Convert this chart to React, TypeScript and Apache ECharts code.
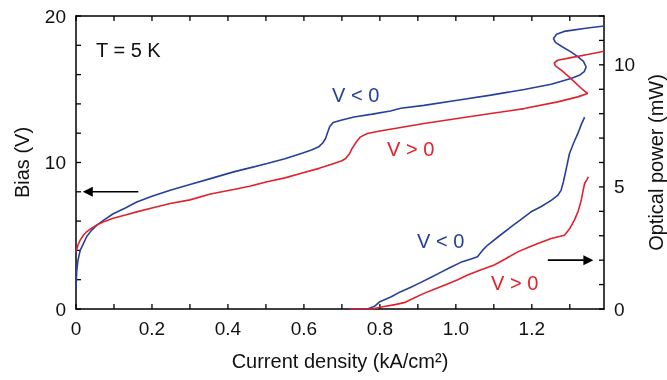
import React, { useEffect, useRef } from "react";
import * as echarts from "echarts";

// Bias (V) vs current density (kA/cm²)
const biasNeg: [number, number][] = [
  [0, 1.5], [0.002, 2.6], [0.005, 3.3], [0.011, 4.0], [0.02, 4.5], [0.028, 4.93], [0.04, 5.35],
  [0.055, 5.73], [0.075, 6.1], [0.098, 6.5], [0.13, 6.9], [0.16, 7.3], [0.2, 7.7], [0.248, 8.1],
  [0.3, 8.5], [0.354, 8.9], [0.415, 9.36], [0.46, 9.65], [0.503, 9.93], [0.55, 10.25], [0.591, 10.6],
  [0.62, 10.85], [0.639, 11.07], [0.65, 11.35], [0.657, 11.64], [0.663, 12.1], [0.668, 12.45],
  [0.677, 12.73], [0.7, 12.9], [0.732, 13.1], [0.78, 13.3], [0.828, 13.52], [0.855, 13.7],
  [0.916, 13.9], [1.004, 14.25], [1.092, 14.6], [1.18, 14.98], [1.251, 15.34], [1.303, 15.73],
  [1.325, 15.95], [1.338, 16.2], [1.343, 16.52], [1.336, 16.9], [1.32, 17.25], [1.303, 17.55],
  [1.28, 17.9], [1.262, 18.2], [1.257, 18.46], [1.265, 18.75], [1.285, 18.95], [1.303, 19.02],
  [1.347, 19.18], [1.39, 19.32],
];
const biasPos: [number, number][] = [
  [0, 3.9], [0.005, 4.35], [0.011, 4.7], [0.02, 5.05], [0.028, 5.27], [0.04, 5.5], [0.055, 5.73],
  [0.075, 5.98], [0.098, 6.2], [0.13, 6.42], [0.16, 6.63], [0.2, 6.9], [0.248, 7.2], [0.3, 7.45],
  [0.354, 7.85], [0.415, 8.16], [0.46, 8.4], [0.503, 8.68], [0.55, 8.95], [0.591, 9.25], [0.64, 9.6],
  [0.679, 9.93], [0.7, 10.12], [0.71, 10.27], [0.72, 10.6], [0.727, 10.96], [0.738, 11.4],
  [0.749, 11.75], [0.767, 11.98], [0.8, 12.15], [0.855, 12.39], [0.916, 12.66], [1.004, 13.0],
  [1.092, 13.34], [1.18, 13.68], [1.268, 14.14], [1.321, 14.48], [1.347, 14.71], [1.335, 14.95],
  [1.303, 15.73], [1.28, 16.25], [1.262, 16.6], [1.259, 16.8], [1.268, 16.98], [1.303, 17.16],
  [1.347, 17.37], [1.39, 17.59],
];
// Optical power (mW) vs current density
const powerNeg: [number, number][] = [
  [0.72, 0], [0.767, 0], [0.785, 0.1], [0.8, 0.3], [0.83, 0.5], [0.855, 0.71], [0.88, 0.88],
  [0.908, 1.09], [0.935, 1.3], [0.96, 1.5], [0.985, 1.7], [1.013, 1.91], [1.04, 2.05], [1.057, 2.14],
  [1.07, 2.4], [1.084, 2.62], [1.115, 3.0], [1.145, 3.36], [1.17, 3.65], [1.198, 3.98], [1.225, 4.2],
  [1.251, 4.45], [1.268, 4.65], [1.277, 4.86], [1.283, 5.2], [1.29, 5.7], [1.299, 6.36], [1.31, 6.8],
  [1.321, 7.18], [1.33, 7.55], [1.339, 7.86],
];
const powerPos: [number, number][] = [
  [0.72, 0], [0.78, 0], [0.811, 0.1], [0.84, 0.18], [0.864, 0.26], [0.89, 0.45], [0.916, 0.64],
  [0.945, 0.82], [0.978, 1.02], [1.005, 1.2], [1.031, 1.39], [1.065, 1.6], [1.101, 1.8], [1.13, 2.05],
  [1.163, 2.34], [1.19, 2.52], [1.216, 2.68], [1.251, 2.89], [1.286, 3.02], [1.3, 3.3], [1.312, 3.64],
  [1.322, 4.0], [1.33, 4.45], [1.335, 4.85], [1.339, 5.14], [1.345, 5.3], [1.349, 5.41],
];
// Tick positions (inward ticks on all four sides)
const xTicks = [0, 0.1, 0.2, 0.3, 0.4, 0.5, 0.6, 0.7, 0.8, 0.9, 1.0, 1.1, 1.2, 1.3];
const biasTicks = [0, 2, 4, 6, 8, 10, 12, 14, 16, 18, 20];
const powerTicks = [0, 1, 2, 3, 4, 5, 6, 7, 8, 9, 10, 11, 12];
// Arrows pointing to the axes (data coordinates: start, tip)
const biasArrow: [number, number][] = [[0.164, 8], [0.018, 8]];
const powerArrow: [number, number][] = [[1.242, 2], [1.362, 2]];

const X_MAX = 1.39;
const BIAS_MAX = 20;
const POWER_MAX = 12;
const BLUE = "#27409c";
const RED = "#e0222c";
const FONT = "Liberation Sans";
const TICK_LEN = 5;

const mkLine = () => ({ show: true, onZero: false, lineStyle: { color: "#000", width: 1.5 } });

export default function App() {
  const ref = useRef<HTMLDivElement>(null);
  useEffect(() => {
    if (!ref.current) return;
    const chart = echarts.init(ref.current, undefined, { renderer: "svg" });
    const labelStyle = { color: "#111", fontSize: 19, fontFamily: FONT };
    const nameStyle = { color: "#111", fontSize: 20, fontFamily: FONT };
    const xFmt = (v: number) => {
      const r = Math.round(v * 10);
      if (r % 2 !== 0 || v > 1.35) return "";
      return r === 0 ? "0" : (r / 10).toFixed(1);
    };
    chart.setOption({
      animation: false,
      grid: { left: 76, top: 16, right: 63, bottom: 71, outerBoundsMode: "none" },
      xAxis: [
        {
          type: "value", min: 0, max: X_MAX, interval: 0.1, position: "bottom",
          axisLine: mkLine(), axisTick: { show: false }, splitLine: { show: false },
          axisLabel: { ...labelStyle, margin: 10, formatter: xFmt },
          name: "Current density (kA/cm²)", nameLocation: "middle", nameGap: 42, nameTextStyle: nameStyle,
        },
        {
          type: "value", min: 0, max: X_MAX, interval: 0.1, position: "top",
          axisLine: mkLine(), axisTick: { show: false }, splitLine: { show: false },
          axisLabel: { show: false },
        },
      ],
      yAxis: [
        {
          type: "value", min: 0, max: BIAS_MAX, interval: 2, position: "left",
          axisLine: mkLine(), axisTick: { show: false }, splitLine: { show: false },
          axisLabel: { ...labelStyle, margin: 10, formatter: (v: number) => (v % 10 === 0 ? String(v) : "") },
          name: "Bias (V)", nameLocation: "middle", nameGap: 44, nameRotate: 90, nameTextStyle: nameStyle,
        },
        {
          type: "value", min: 0, max: POWER_MAX, interval: 1, position: "right",
          axisLine: mkLine(), axisTick: { show: false }, splitLine: { show: false },
          axisLabel: { ...labelStyle, margin: 10, formatter: (v: number) => (v % 5 === 0 ? String(v) : "") },
          name: "Optical power (mW)", nameLocation: "middle", nameGap: 41, nameRotate: 90, nameTextStyle: nameStyle,
        },
      ],
      series: [
        { type: "line", name: "bias V<0", data: biasNeg, xAxisIndex: 0, yAxisIndex: 0, showSymbol: false, lineStyle: { color: BLUE, width: 1.6 }, itemStyle: { color: BLUE } },
        { type: "line", name: "bias V>0", data: biasPos, xAxisIndex: 0, yAxisIndex: 0, showSymbol: false, lineStyle: { color: RED, width: 1.6 }, itemStyle: { color: RED } },
        { type: "line", name: "power V<0", data: powerNeg, xAxisIndex: 0, yAxisIndex: 1, showSymbol: false, lineStyle: { color: BLUE, width: 1.6 }, itemStyle: { color: BLUE } },
        { type: "line", name: "power V>0", data: powerPos, xAxisIndex: 0, yAxisIndex: 1, showSymbol: false, lineStyle: { color: RED, width: 1.6 }, itemStyle: { color: RED } },
      ],
    });

    const toPx = (x: number, y: number, yAxisIndex: number) =>
      chart.convertToPixel({ xAxisIndex: 0, yAxisIndex }, [x, y]) as number[];
    const left = toPx(0, 0, 0)[0];
    const right = toPx(X_MAX, 0, 0)[0];
    const bottom = toPx(0, 0, 0)[1];
    const top = toPx(0, BIAS_MAX, 0)[1];
    const seg = (x1: number, y1: number, x2: number, y2: number, lw = 1.3) => ({
      type: "line", silent: true, shape: { x1, y1, x2, y2 }, style: { stroke: "#000", lineWidth: lw },
    });
    const ticks: any[] = [];
    xTicks.forEach((v) => {
      const x = toPx(v, 0, 0)[0];
      ticks.push(seg(x, bottom, x, bottom - TICK_LEN));
      ticks.push(seg(x, top, x, top + TICK_LEN));
    });
    biasTicks.forEach((v) => {
      const y = toPx(0, v, 0)[1];
      ticks.push(seg(left, y, left + TICK_LEN, y));
    });
    powerTicks.forEach((v) => {
      const y = toPx(0, v, 1)[1];
      ticks.push(seg(right - TICK_LEN, y, right, y));
    });

    const arrow = (pts: [number, number][], yAxisIndex: number) => {
      const a = toPx(pts[0][0], pts[0][1], yAxisIndex);
      const b = toPx(pts[1][0], pts[1][1], yAxisIndex);
      const dir = Math.sign(b[0] - a[0]);
      const head = 10;
      const half = 5;
      const baseX = b[0] - dir * head;
      return [
        seg(a[0], a[1], baseX + dir * 2, b[1], 1.6),
        { type: "polygon", silent: true, shape: { points: [[b[0], b[1]], [baseX, b[1] - half], [baseX, b[1] + half]] }, style: { fill: "#000" } },
      ];
    };
    const txt = (x: number, y: number, text: string, fill: string) => ({
      type: "text", x, y, style: { text, fill, fontSize: 20, fontFamily: FONT, verticalAlign: "middle" },
    });
    chart.setOption({
      graphic: [
        ...ticks,
        ...arrow(biasArrow, 0),
        ...arrow(powerArrow, 1),
        txt(96, 50, "T = 5 K", "#111"),
        txt(332, 95, "V < 0", BLUE),
        txt(387, 149, "V > 0", RED),
        txt(417, 241, "V < 0", BLUE),
        txt(491, 283, "V > 0", RED),
      ],
    });
    return () => chart.dispose();
  }, []);
  return <div ref={ref} style={{ position: "fixed", left: 0, top: 0, width: 667, height: 380 }} />;
}
